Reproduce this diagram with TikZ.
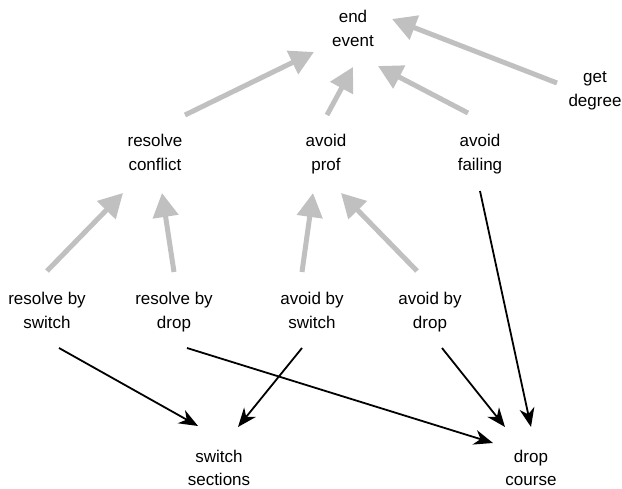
\documentclass[tikz,border=0pt]{standalone}
\usepackage{fontspec}
\setmainfont{Liberation Sans}
\usetikzlibrary{arrows.meta}
\definecolor{edgegray}{RGB}{192,192,192}
\tikzset{
  lbl/.style={inner sep=0pt, align=center, font=\fontsize{17}{24}\selectfont},
  goal/.style={draw=edgegray, line width=5pt, -{Triangle[length=24pt,width=25pt]}},
  act/.style={draw=black, line width=1.8pt, -{Stealth[length=19pt,width=15pt,inset=6pt]}}
}
\newcommand{\twolines}[2]{\strut #1\\\strut #2}
\begin{document}
\begin{tikzpicture}[x=1pt,y=-1pt]
\useasboundingbox (0,0) rectangle (622,489);
\node[lbl] (end) at (353,30.2) {\twolines{end}{event}};
\node[lbl] (gd)  at (595,90.2) {\twolines{get}{degree}};
\node[lbl] (rc)  at (155,154.2) {\twolines{resolve}{conflict}};
\node[lbl] (ap)  at (326,154.2) {\twolines{avoid}{prof}};
\node[lbl] (af)  at (480,154.2) {\twolines{avoid}{failing}};
\node[lbl] (rbs) at (47,311.5) {\twolines{resolve by}{switch}};
\node[lbl] (rbd) at (174,311.5) {\twolines{resolve by}{drop}};
\node[lbl] (abs) at (312,311.5) {\twolines{avoid by}{switch}};
\node[lbl] (abd) at (430,311.5) {\twolines{avoid by}{drop}};
\node[lbl] (ss)  at (219,469.2) {\twolines{switch}{sections}};
\node[lbl] (dc)  at (531,469.2) {\twolines{drop}{course}};
% gray goal edges
\draw[goal] ([shift={(30,-39.2)}]rc.center) -- ([shift={(-39,21.8)}]end.center);
\draw[goal] ([shift={(1,-39.2)}]ap.center) -- ([shift={(0,36.8)}]end.center);
\draw[goal] ([shift={(-12,-41.2)}]af.center) -- ([shift={(25,35.8)}]end.center);
\draw[goal] ([shift={(-38,-7.2)}]gd.center) -- ([shift={(39,-11.2)}]end.center);
\draw[goal] ([shift={(0,-40.5)}]rbs.center) -- ([shift={(-32,38.8)}]rc.center);
\draw[goal] ([shift={(0,-39.5)}]rbd.center) -- ([shift={(7,38.8)}]rc.center);
\draw[goal] ([shift={(-10,-39.5)}]abs.center) -- ([shift={(-13,38.8)}]ap.center);
\draw[goal] ([shift={(-13,-40.5)}]abd.center) -- ([shift={(15,38.8)}]ap.center);
% black action edges
\draw[act] ([shift={(12,36.5)}]rbs.center) -- ([shift={(-21,-43.2)}]ss.center);
\draw[act] ([shift={(13,36.5)}]rbd.center) -- ([shift={(-38,-26.2)}]dc.center);
\draw[act] ([shift={(-10,36.5)}]abs.center) -- ([shift={(19,-42.2)}]ss.center);
\draw[act] ([shift={(12,36.5)}]abd.center) -- ([shift={(-26,-42.2)}]dc.center);
\draw[act] ([shift={(0,36.8)}]af.center) -- ([shift={(0,-42.2)}]dc.center);
\end{tikzpicture}
\end{document}
